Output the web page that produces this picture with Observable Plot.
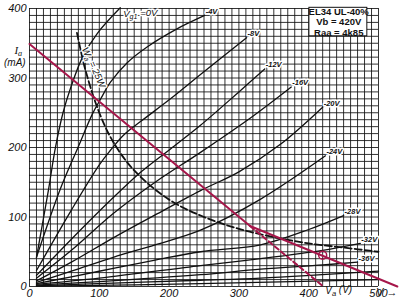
<!DOCTYPE html>
<html>
<head>
<meta charset="utf-8">
<script src="https://cdn.jsdelivr.net/npm/d3@7"></script>
<script src="https://cdn.jsdelivr.net/npm/@observablehq/plot@0.6"></script>
<style>
  html, body { margin: 0; padding: 0; background: #fff; }
  #chart { width: 400px; height: 298px; overflow: hidden; }
</style>
</head>
<body>
<div id="chart"></div>
<script>
// ---- axis ticks ----
const xTicks = [0, 100, 200, 300, 400, 500];
const yTicks = [0, 100, 200, 300, 400];
const gridStep = 10;

// ---- anode characteristics (Va in V, Ia in mA) ----
const curveLabels = ["V_{g1} =0V", "-4V", "-8V", "-12V", "-16V", "-20V", "-24V", "-28V", "-32V", "-36V", "", ""];
const vg0  = [[10,42],[27,138],[37,199],[48,250],[59,286],[76,330],[97,364],[130,401]];
const vg4  = [[10,42],[44,140],[69,199],[90,248],[102,270],[116,294],[140,322],[169,345],[210,370],[251,390]];
const vg8  = [[10,23],[60,110],[100,175],[116,196],[135,218],[160,238],[202,270],[245,305],[311,358]];
const vg12 = [[10,16],[60,68],[116,124],[160,165],[202,198],[245,232],[300,280],[337,313]];
const vg16 = [[10,12],[60,52],[120,105],[180,150],[245,193],[320,245],[375,287]];
const vg20 = [[10,8],[60,35],[120,70],[180,103],[245,138],[300,165],[360,205],[420,258]];
const vg24 = [[10,6],[60,22],[120,42],[180,60],[245,81],[330,125],[424,188]];
const vg28 = [[10,4],[60,14],[120,26],[180,38],[245,50],[331,60],[400,82],[450,102]];
const vg32 = [[10,3],[100,12],[245,30],[331,40],[420,52],[474,62]];
const vg36 = [[10,2],[100,7],[245,17],[331,25],[420,31],[470,35]];
const vg40 = [[10,1],[120,5],[245,9],[331,12],[500,22]];
const vg44 = [[10,0.5],[120,2],[245,4],[500,10]];
const curveSets = [vg0, vg4, vg8, vg12, vg16, vg20, vg24, vg28, vg32, vg36, vg40, vg44];

// ---- Pa = 25 W hyperbola, read points ----
const pa25 = [[68,365],[80,312],[100,250],[120,208],[150,167],[200,125],[250,100],[300,83],[350,71],[400,62],[450,56],[500,50]];
const paLabel = "W_{a} = 25W";

// ---- load lines ----
const loadSolid = [[0,349],[316,87],[527,0]];
const loadDashed = [[316,87],[421,0]];
const quiescent = [[420,45]];

// ---- info box ----
const infoLines = ["EL34 UL-40%", "Vb = 420V", "Raa = 4k85"];

const RED = "#a6164a";
const INK = "#111";

const rows = [];
curveSets.forEach((pts, i) => pts.forEach(([V, I]) => rows.push({g: i, V, I})));
const ends = curveSets.map((pts, i) => ({V: pts[pts.length-1][0], I: pts[pts.length-1][1], label: curveLabels[i], i}))
  .filter(d => d.label);

const chart = Plot.plot({
  width: 400,
  height: 298,
  marginLeft: 29,
  marginRight: 22,
  marginTop: 8,
  marginBottom: 12,
  x: {domain: [0, 500]},
  y: {domain: [0, 400]},
  style: {fontFamily: "'Liberation Sans', Arial, sans-serif", background: "#fff", overflow: "visible"},
  marks: [
    Plot.gridX(d3.range(0, 501, gridStep), {stroke: INK, strokeOpacity: 0.85, strokeWidth: 1}),
    Plot.gridY(d3.range(0, 401, gridStep), {stroke: INK, strokeOpacity: 0.85, strokeWidth: 1}),
    Plot.axisX(xTicks, {tickSize: 0, tickPadding: 3, fontSize: 11, fontStyle: "italic", fill: INK}),
    Plot.axisY(yTicks, {tickSize: 0, tickPadding: 3, fontSize: 11, fontStyle: "italic", fill: INK, label: null}),
    // characteristic curves
    Plot.line(rows, {x: "V", y: "I", z: "g", curve: "catmull-rom", stroke: INK, strokeWidth: 1.3}),
    // 25 W hyperbola
    Plot.line(pa25, {x: d => d[0], y: d => d[1], curve: "catmull-rom", stroke: INK, strokeWidth: 1.8, strokeDasharray: "7,3"}),
    Plot.text([pa25[1]], {x: d => d[0], y: d => d[1], text: () => paLabel, rotate: 66, dx: 8, dy: -2,
      fontSize: 9.5, fontStyle: "italic", fill: INK, stroke: "#fff", strokeWidth: 2.5, className: "sublabel"}),
    // load lines
    Plot.line(loadDashed, {x: d => d[0], y: d => d[1], stroke: RED, strokeWidth: 2, strokeDasharray: "5,3"}),
    Plot.line(loadSolid, {x: d => d[0], y: d => d[1], stroke: RED, strokeWidth: 2}),
    Plot.dot(quiescent, {x: d => d[0], y: d => d[1], r: 4, stroke: RED, strokeWidth: 1.5, fill: "none"}),
    // curve labels
    Plot.text(ends.slice(1), {x: "V", y: "I", text: "label", textAnchor: "start", dx: 1, dy: -4,
      fontSize: 7.5, fontStyle: "italic", fontWeight: "bold", fill: INK, stroke: "#fff", strokeWidth: 3}),
    Plot.text(ends.slice(0, 1), {x: "V", y: "I", text: "label", textAnchor: "start", dx: 3, dy: 6,
      fontSize: 9.5, fontStyle: "italic", fill: INK, stroke: "#fff", strokeWidth: 3, className: "sublabel"}),
    // info box
    Plot.rect([0], {x1: 401, x2: 484, y1: 360, y2: 401, fill: "#fff", stroke: INK, strokeWidth: 1}),
    Plot.text(infoLines, {x: 443, y: (d, i) => 394.5 - i * 14.5, text: d => d, fontSize: 9.5, fontWeight: "bold", fill: INK}),
    // axis titles
    Plot.text(["I_{a}"], {x: -16, y: 340, text: d => d, fontSize: 11, fontStyle: "italic", fontFamily: "'Liberation Serif', serif", fill: INK, className: "sublabel"}),
    Plot.text(["(mA)"], {x: -21, y: 322, text: d => d, fontSize: 10, fontStyle: "italic", fill: INK}),
    Plot.text(["V_{a} (V)"], {x: 443, y: -6.5, text: d => d, fontSize: 10, fontStyle: "italic", fill: INK, className: "sublabel"})
  ]
});

// turn _{...} markers into subscript tspans
d3.select(chart).selectAll(".sublabel text").each(function() {
  const t = this.textContent;
  if (!t.includes("_{")) return;
  const parts = t.split(/(_\{[^}]*\})/).filter(Boolean);
  const el = d3.select(this);
  el.text(null);
  let down = false;
  parts.forEach(p => {
    if (p.startsWith("_{")) {
      el.append("tspan").attr("dy", down ? null : "0.3em").attr("font-size", "75%").text(p.slice(2, -1));
      down = true;
    } else {
      el.append("tspan").attr("dy", down ? "-0.3em" : null).text(p);
      down = false;
    }
  });
});

document.getElementById("chart").appendChild(chart);
</script>
</body>
</html>
